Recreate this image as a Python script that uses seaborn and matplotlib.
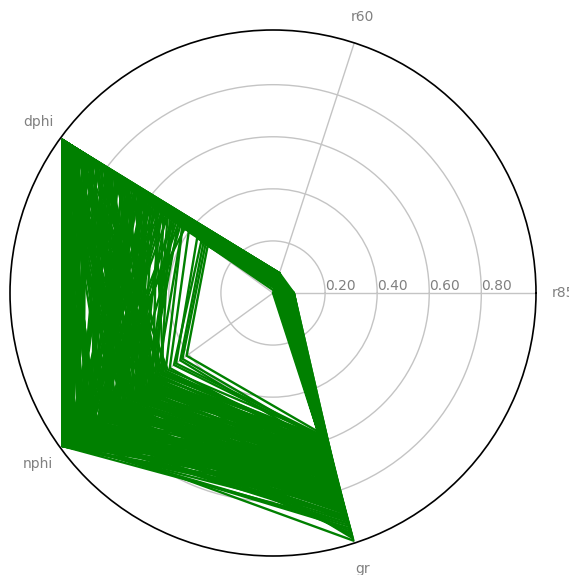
import matplotlib
matplotlib.use("Agg")
import numpy as np
import pandas as pd
import matplotlib.pyplot as plt
import seaborn as sns

# ---- data ----
axis_names = ["r85", "r60", "dphi", "nphi", "gr"]
r_ticks = [0.2, 0.4, 0.6, 0.8]
r_tick_labels = ["0.20", "0.40", "0.60", "0.80"]

r85 = [0.03, 0.05, 0.02, 0.06, 0.01, 0.04, 0.07, 0.03, 0.05, 0.02,
       0.04, 0.08, 0.01, 0.03, 0.06, 0.02, 0.05, 0.04, 0.07, 0.03,
       0.02, 0.05, 0.04, 0.01, 0.06, 0.03, 0.08, 0.02, 0.04, 0.05,
       0.03, 0.07, 0.02, 0.05, 0.01, 0.04, 0.06, 0.03, 0.02, 0.05,
       0.04, 0.01, 0.06, 0.03, 0.07, 0.02, 0.05, 0.04, 0.03, 0.06,
       0.02, 0.05, 0.03, 0.08, 0.04, 0.01, 0.06, 0.02, 0.05, 0.03,
       0.04, 0.02, 0.07, 0.03, 0.05, 0.01, 0.04, 0.06, 0.02, 0.03,
       0.01, 0.02, 0.00, 0.01, 0.02, 0.01, 0.05, 0.03, 0.04, 0.06,
       0.05, 0.02, 0.04, 0.07, 0.03, 0.01, 0.06, 0.04, 0.02, 0.05,
       0.03, 0.06, 0.01, 0.04, 0.08, 0.02, 0.05, 0.03, 0.07, 0.04,
       0.02, 0.05, 0.03, 0.06, 0.01, 0.04, 0.07, 0.02, 0.05, 0.03,
       0.06, 0.04, 0.02, 0.05, 0.03, 0.08, 0.01, 0.04, 0.06, 0.02,
       0.03, 0.05, 0.07, 0.02, 0.04, 0.01, 0.06, 0.03, 0.05, 0.04,
       0.02, 0.06, 0.03, 0.05, 0.01, 0.07, 0.04, 0.02, 0.05, 0.03,
       0.04, 0.02, 0.06, 0.03, 0.05, 0.01, 0.04, 0.07, 0.03, 0.02,
       0.05, 0.03, 0.04, 0.06, 0.02, 0.04, 0.01, 0.05, 0.03, 0.06,
       0.03, 0.05, 0.02, 0.04, 0.06, 0.01, 0.04, 0.03, 0.05, 0.02,
       0.06, 0.03, 0.04, 0.02, 0.05, 0.07, 0.03, 0.04, 0.01, 0.05,
       0.04, 0.02, 0.06, 0.03, 0.05, 0.04, 0.02, 0.07, 0.03, 0.05,
       0.01, 0.04, 0.06, 0.03, 0.02, 0.05, 0.04, 0.03, 0.06, 0.02]

r60 = [0.05, 0.04, 0.06, 0.03, 0.07, 0.05, 0.04, 0.06, 0.08, 0.03,
       0.05, 0.06, 0.04, 0.07, 0.03, 0.05, 0.06, 0.04, 0.05, 0.07,
       0.04, 0.06, 0.05, 0.03, 0.08, 0.04, 0.06, 0.05, 0.07, 0.04,
       0.06, 0.03, 0.05, 0.07, 0.04, 0.06, 0.05, 0.03, 0.06, 0.08,
       0.04, 0.05, 0.07, 0.03, 0.06, 0.04, 0.05, 0.07, 0.04, 0.05,
       0.06, 0.04, 0.05, 0.08, 0.03, 0.06, 0.04, 0.05, 0.07, 0.05,
       0.03, 0.06, 0.05, 0.04, 0.07, 0.05, 0.06, 0.04, 0.05, 0.06,
       0.02, 0.03, 0.02, 0.01, 0.03, 0.02, 0.06, 0.05, 0.07, 0.04,
       0.06, 0.04, 0.05, 0.07, 0.03, 0.05, 0.06, 0.04, 0.08, 0.05,
       0.04, 0.06, 0.05, 0.03, 0.07, 0.04, 0.06, 0.05, 0.04, 0.07,
       0.05, 0.03, 0.06, 0.04, 0.07, 0.05, 0.04, 0.06, 0.05, 0.08,
       0.04, 0.06, 0.05, 0.03, 0.06, 0.04, 0.07, 0.05, 0.04, 0.06,
       0.07, 0.05, 0.04, 0.06, 0.03, 0.05, 0.07, 0.04, 0.06, 0.05,
       0.04, 0.08, 0.05, 0.06, 0.04, 0.05, 0.03, 0.06, 0.05, 0.07,
       0.05, 0.04, 0.06, 0.05, 0.07, 0.03, 0.05, 0.06, 0.04, 0.05,
       0.06, 0.05, 0.04, 0.07, 0.05, 0.06, 0.04, 0.05, 0.06, 0.04,
       0.05, 0.04, 0.06, 0.05, 0.03, 0.07, 0.04, 0.06, 0.05, 0.04,
       0.06, 0.05, 0.03, 0.07, 0.04, 0.05, 0.06, 0.04, 0.05, 0.06,
       0.04, 0.07, 0.05, 0.03, 0.06, 0.05, 0.04, 0.06, 0.05, 0.07,
       0.04, 0.05, 0.06, 0.04, 0.05, 0.03, 0.06, 0.05, 0.04, 0.06]

dphi = [1.00, 0.93, 1.00, 0.78, 1.00, 0.88, 0.62, 1.00, 0.97, 0.55,
        1.00, 0.71, 0.95, 1.00, 0.84, 0.66, 1.00, 0.49, 0.91, 1.00,
        0.76, 0.58, 1.00, 0.87, 0.99, 0.45, 1.00, 0.81, 0.69, 0.94,
        1.00, 0.52, 0.89, 1.00, 0.73, 0.60, 1.00, 0.96, 0.83, 1.00,
        0.47, 0.92, 1.00, 0.64, 0.85, 1.00, 0.57, 0.98, 0.75, 0.43,
        1.00, 0.80, 0.90, 1.00, 0.68, 0.97, 1.00, 0.53, 0.86, 1.00,
        0.61, 1.00, 0.79, 0.50, 1.00, 0.72, 0.94, 1.00, 0.65, 0.99,
        0.31, 0.34, 0.33, 0.36, 0.32, 0.40, 1.00, 0.88, 1.00, 0.96,
        1.00, 0.84, 0.67, 1.00, 0.91, 0.56, 1.00, 0.78, 0.95, 0.63,
        1.00, 0.48, 0.87, 1.00, 0.72, 0.99, 0.59, 1.00, 0.82, 0.69,
        0.93, 1.00, 0.54, 0.77, 1.00, 0.89, 0.44, 1.00, 0.66, 0.97,
        0.81, 1.00, 0.60, 0.92, 1.00, 0.74, 0.51, 1.00, 0.86, 0.70,
        1.00, 0.96, 0.58, 1.00, 0.79, 0.65, 0.90, 1.00, 0.46, 0.83,
        1.00, 0.71, 0.94, 1.00, 0.57, 0.88, 1.00, 0.63, 0.98, 0.76,
        1.00, 0.52, 0.85, 1.00, 0.68, 0.92, 1.00, 0.42, 0.80, 1.00,
        0.74, 0.97, 1.00, 0.61, 0.89, 1.00, 0.55, 0.95, 1.00, 0.70,
        0.62, 0.85, 0.47, 0.73, 0.91, 0.56, 0.68, 0.80, 0.43, 0.95,
        0.59, 0.77, 0.88, 0.50, 0.66, 0.83, 0.71, 0.54, 0.93, 0.64,
        0.79, 0.45, 0.87, 0.61, 0.74, 0.97, 0.52, 0.69, 0.82, 0.58,
        0.90, 0.48, 0.75, 0.65, 0.86, 0.53, 0.70, 0.94, 0.60, 0.78]

nphi = [0.97, 0.88, 0.74, 0.93, 0.61, 0.99, 0.83, 0.70, 0.95, 0.57,
        0.91, 0.78, 1.00, 0.66, 0.86, 0.96, 0.72, 0.53, 0.89, 0.98,
        0.80, 0.64, 0.94, 0.76, 0.99, 0.59, 0.87, 0.92, 0.69, 0.81,
        1.00, 0.55, 0.90, 0.75, 0.97, 0.63, 0.84, 0.95, 0.71, 0.99,
        0.58, 0.93, 0.79, 0.67, 0.98, 0.85, 0.62, 0.96, 0.73, 0.51,
        0.91, 0.77, 1.00, 0.68, 0.88, 0.94, 0.60, 0.82, 0.97, 0.74,
        0.65, 0.99, 0.86, 0.56, 0.92, 0.79, 0.96, 0.70, 0.89, 1.00,
        0.41, 0.47, 0.44, 0.46, 0.43, 0.49, 0.98, 0.93, 0.84, 0.95,
        0.92, 0.69, 0.85, 0.99, 0.62, 0.77, 0.95, 0.54, 0.88, 0.73,
        1.00, 0.59, 0.81, 0.90, 0.66, 0.97, 0.71, 0.94, 0.57, 0.83,
        0.98, 0.64, 0.76, 0.89, 0.52, 0.93, 0.68, 1.00, 0.80, 0.61,
        0.87, 0.96, 0.73, 0.55, 0.91, 0.78, 0.65, 0.99, 0.84, 0.58,
        0.94, 0.72, 0.86, 0.97, 0.63, 0.79, 0.50, 0.90, 0.75, 0.98,
        0.67, 0.88, 0.56, 0.95, 0.82, 0.70, 1.00, 0.60, 0.85, 0.93,
        0.74, 0.97, 0.53, 0.87, 0.79, 0.99, 0.66, 0.91, 0.58, 0.84,
        0.96, 0.71, 0.89, 0.62, 1.00, 0.77, 0.94, 0.68, 0.86, 0.57,
        0.71, 0.58, 0.84, 0.63, 0.77, 0.52, 0.90, 0.67, 0.55, 0.80,
        0.74, 0.61, 0.69, 0.86, 0.57, 0.75, 0.64, 0.92, 0.53, 0.82,
        0.60, 0.78, 0.66, 0.88, 0.54, 0.72, 0.81, 0.59, 0.68, 0.95,
        0.63, 0.76, 0.51, 0.85, 0.70, 0.62, 0.79, 0.56, 0.87, 0.65]

gr = [0.72, 0.85, 0.64, 0.91, 0.58, 0.78, 0.69, 0.83, 1.00, 0.61,
      0.75, 0.88, 0.67, 0.80, 0.96, 0.63, 0.71, 0.59, 0.86, 0.74,
      0.82, 0.66, 0.93, 0.70, 0.77, 0.60, 0.89, 0.76, 0.65, 0.84,
      0.62, 0.79, 0.73, 0.98, 0.68, 0.87, 0.57, 0.81, 0.74, 0.90,
      0.64, 0.77, 0.86, 0.69, 0.95, 0.72, 0.80, 0.66, 0.83, 0.61,
      0.88, 0.70, 0.76, 0.63, 0.84, 0.92, 0.67, 0.79, 0.73, 0.85,
      0.60, 0.81, 0.75, 0.68, 0.87, 0.71, 0.78, 0.99, 0.65, 0.83,
      0.56, 0.58, 0.62, 0.57, 0.59, 0.64, 0.94, 0.82, 0.97, 0.76,
      0.79, 0.66, 0.84, 0.73, 0.61, 0.88, 0.70, 0.64, 0.81, 0.76,
      0.93, 0.62, 0.78, 0.85, 0.68, 0.72, 0.87, 0.80, 0.59, 0.74,
      0.69, 0.83, 0.65, 0.90, 0.60, 0.77, 0.71, 0.86, 0.63, 0.82,
      0.75, 0.67, 0.89, 0.58, 0.80, 0.73, 0.84, 0.70, 0.92, 0.64,
      0.78, 0.86, 0.61, 0.74, 0.68, 0.83, 0.57, 0.91, 0.72, 0.79,
      0.66, 0.87, 0.62, 0.76, 0.81, 0.69, 0.85, 0.60, 0.77, 0.73,
      0.88, 0.65, 0.58, 0.82, 0.71, 0.79, 0.63, 0.90, 0.67, 0.75,
      0.84, 0.70, 0.80, 0.61, 0.86, 0.74, 0.68, 0.89, 0.72, 0.62,
      0.70, 0.63, 0.77, 0.67, 0.74, 0.60, 0.82, 0.69, 0.58, 0.79,
      0.72, 0.65, 0.68, 0.84, 0.61, 0.76, 0.66, 0.87, 0.59, 0.80,
      0.64, 0.75, 0.70, 0.85, 0.62, 0.73, 0.78, 0.63, 0.71, 0.90,
      0.67, 0.74, 0.60, 0.83, 0.69, 0.65, 0.77, 0.61, 0.81, 0.68]

# ---- long table (closed polygons) ----
series = [r85, r60, dphi, nphi, gr]
n_ax = len(axis_names)
angles = np.linspace(0, 2 * np.pi, n_ax, endpoint=False)
rows = []
for i in range(len(r85)):
    for k in range(n_ax + 1):
        th = angles[k % n_ax] + (2 * np.pi if k == n_ax else 0.0)
        rows.append({"id": i, "theta": th, "r": series[k % n_ax][i]})
df = pd.DataFrame(rows)

sns.set_style("white")
plt.rcParams["font.family"] = ["DejaVu Sans"]

fig = plt.figure(figsize=(5.69, 5.75), dpi=100)
ax = fig.add_axes([10 / 569, 19 / 575, 526 / 569, 526 / 575], polar=True)

sns.lineplot(data=df, x="theta", y="r", units="id", estimator=None,
             sort=False, color="green", lw=1.7, ax=ax, legend=False)

ax.set_xlabel("")
ax.set_ylabel("")
ax.set_xticks(angles)
ax.set_xticklabels(axis_names, color="grey", fontsize=10)
ax.tick_params(axis="x", pad=9)
ax.set_ylim(0, 1.01)
ax.set_yticks(r_ticks)
ax.set_yticklabels(r_tick_labels, color="grey", fontsize=10)
ax.set_rlabel_position(0)
ax.grid(True, color="#c4c4c4", lw=1)
ax.spines["polar"].set_color("black")
ax.spines["polar"].set_linewidth(1.2)

fig.savefig("out.png", dpi=100)
